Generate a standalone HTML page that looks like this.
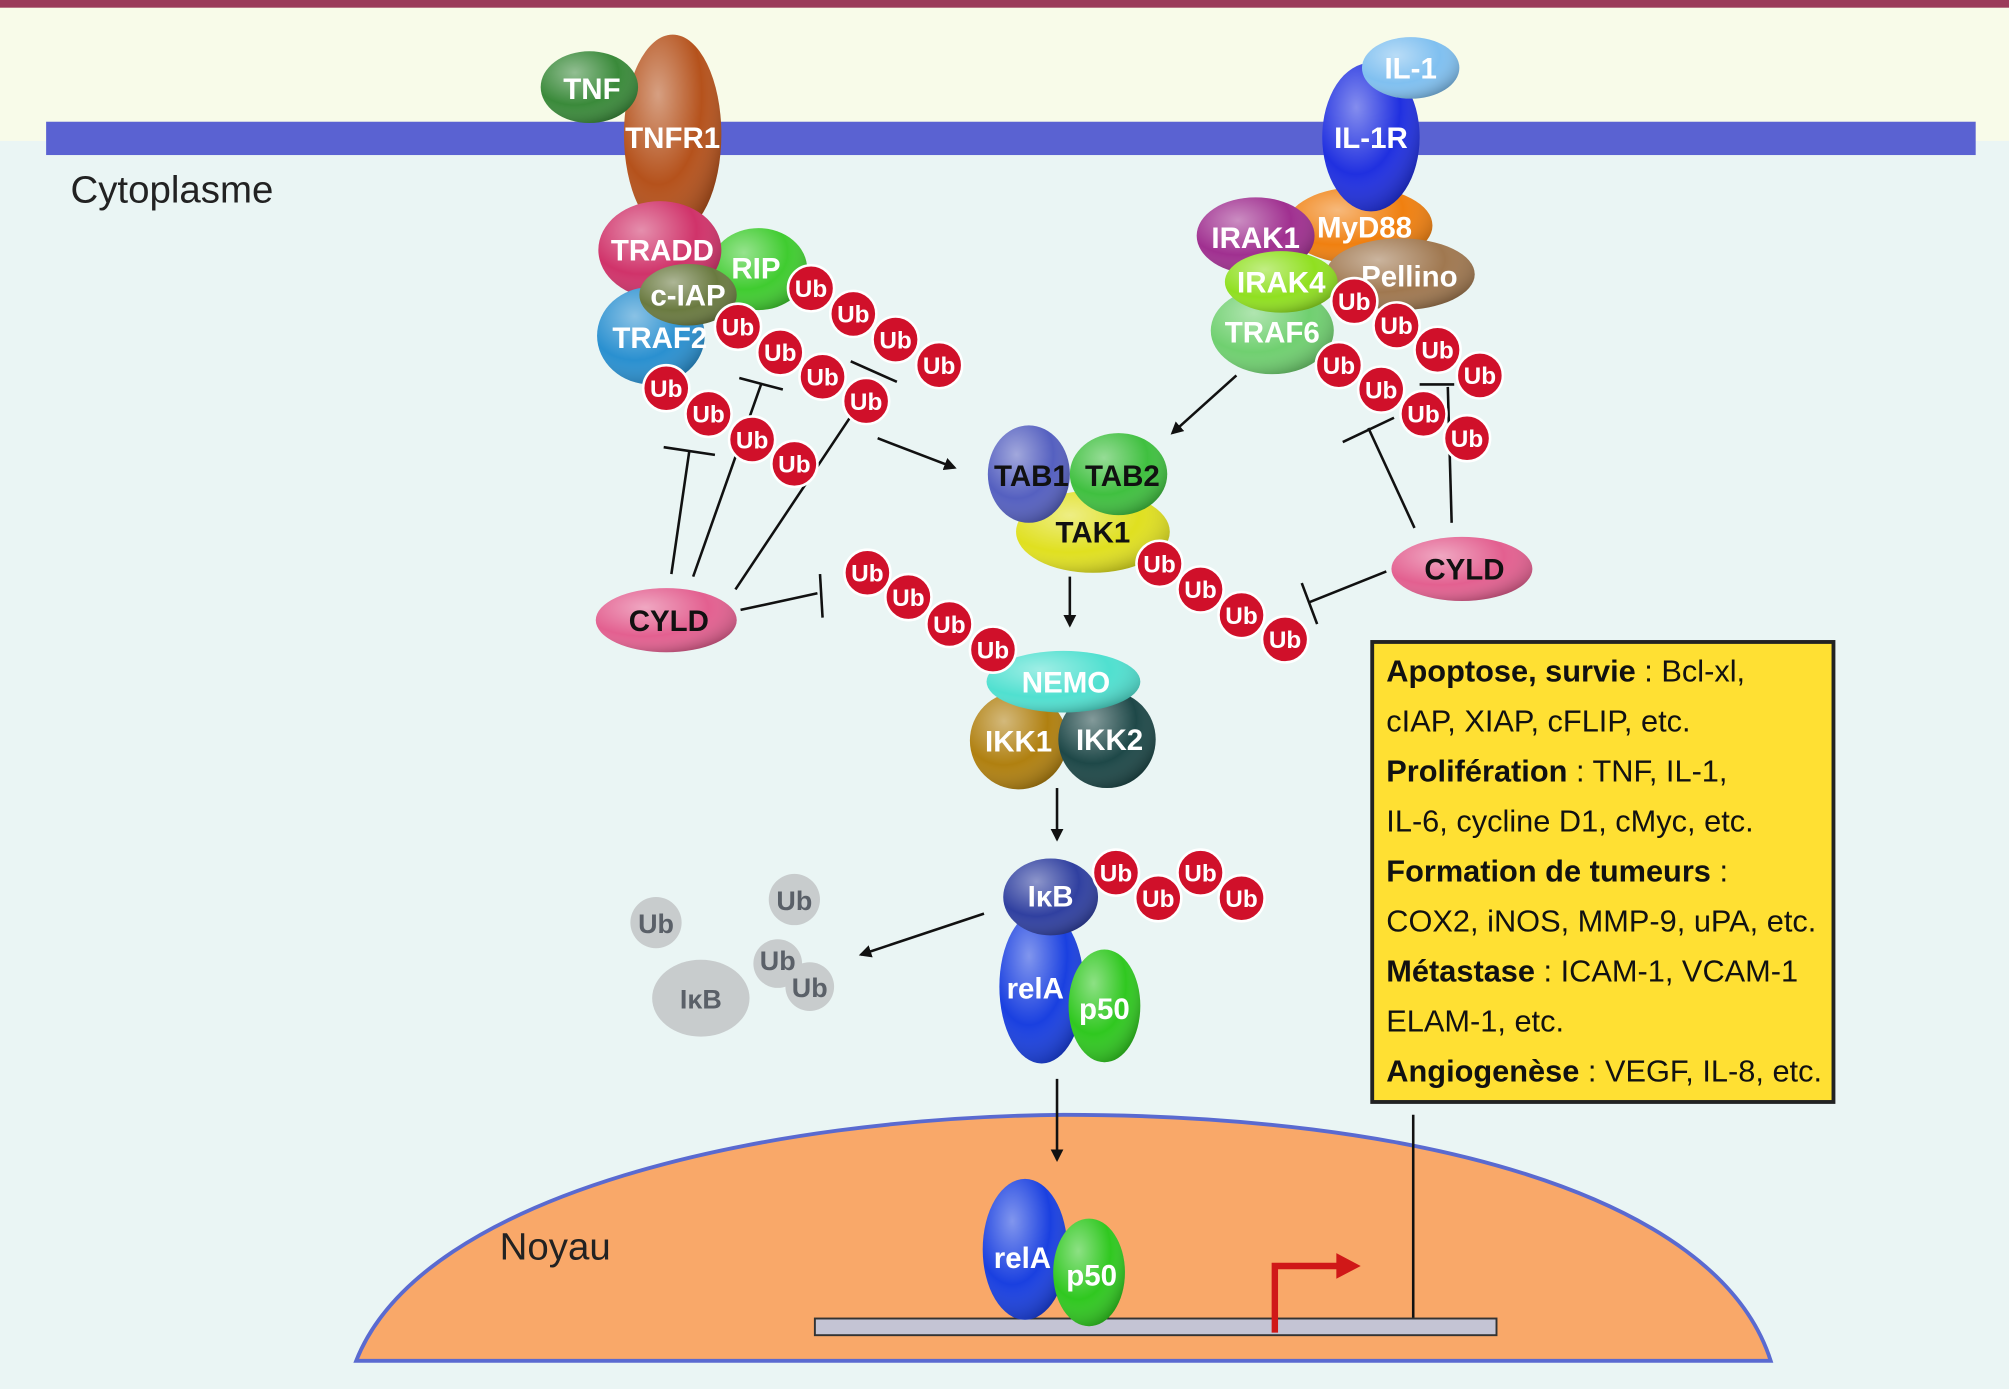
<!DOCTYPE html>
<html><head><meta charset="utf-8"><style>
html,body{margin:0;padding:0;background:#fff}
svg{display:block}
text{font-family:"Liberation Sans",sans-serif}
.l{font-weight:bold;fill:#fff;font-size:23px;text-anchor:middle;dominant-baseline:central}
.k{font-weight:bold;fill:#111;font-size:23px;text-anchor:middle;dominant-baseline:central}
.u{font-weight:bold;fill:#fff;font-size:19px;text-anchor:middle;dominant-baseline:central}
.g{font-weight:bold;fill:#5a6068;font-size:21px;text-anchor:middle;dominant-baseline:central}
.b{font-size:24px;fill:#111}
.b tspan.h{font-weight:bold}
</style></head><body>
<svg width="2009" height="1389" viewBox="0 0 1568 1084" preserveAspectRatio="none" xmlns="http://www.w3.org/2000/svg">
<defs>
<marker id="ar" markerWidth="10" markerHeight="10" refX="8" refY="5" orient="auto" markerUnits="userSpaceOnUse"><path d="M0,0 L14,5 L0,10 z" fill="#111" transform="scale(0.7,1)"/></marker>
<radialGradient id="sh" cx="0.35" cy="0.3" r="0.75"><stop offset="0" stop-color="#fff" stop-opacity="0.45"/><stop offset="0.6" stop-color="#fff" stop-opacity="0"/><stop offset="1" stop-color="#000" stop-opacity="0.25"/></radialGradient>
</defs>
<rect x="0" y="0" width="1568" height="1084" fill="#eaf5f4"/>
<rect x="0" y="0" width="1568" height="110" fill="#f8fbe9"/>
<rect x="0" y="0" width="1568" height="6" fill="#9b3b5a"/>
<rect x="36" y="95" width="1506" height="26" fill="#5a62d2"/>
<text x="55" y="158" font-size="30" fill="#222">Cytoplasme</text>
<path d="M278,1062 C330,930 600,872 830,870 C1100,870 1340,930 1382,1062 Z" fill="#f9a869" stroke="#5a6ad0" stroke-width="3"/>
<text x="390" y="983" font-size="30" fill="#222">Noyau</text>
<line x1="1103" y1="870" x2="1103" y2="1030" stroke="#111" stroke-width="2"/>
<rect x="636" y="1029" width="532" height="13" fill="#c4c4d4" stroke="#333" stroke-width="1.5"/>
<path d="M995,1040 L995,988 L1045,988" fill="none" stroke="#d01818" stroke-width="5"/>
<path d="M1043,978 L1062,988 L1043,998 z" fill="#d01818"/>
<rect x="1071" y="501" width="360" height="359" fill="#ffe033" stroke="#222" stroke-width="3"/>
<text class="b" x="1082" y="532"><tspan class="h">Apoptose, survie</tspan> : Bcl-xl,</text>
<text class="b" x="1082" y="571">cIAP, XIAP, cFLIP, etc.</text>
<text class="b" x="1082" y="610"><tspan class="h">Prolifération</tspan> : TNF, IL-1,</text>
<text class="b" x="1082" y="649">IL-6, cycline D1, cMyc, etc.</text>
<text class="b" x="1082" y="688"><tspan class="h">Formation de tumeurs</tspan> :</text>
<text class="b" x="1082" y="727">COX2, iNOS, MMP-9, uPA, etc.</text>
<text class="b" x="1082" y="766"><tspan class="h">Métastase</tspan> : ICAM-1, VCAM-1</text>
<text class="b" x="1082" y="805">ELAM-1, etc.</text>
<text class="b" x="1082" y="844"><tspan class="h">Angiogenèse</tspan> : VEGF, IL-8, etc.</text>

<g stroke="#111" stroke-width="2" fill="none">
<line x1="524" y1="448" x2="538" y2="352"/><line x1="518" y1="349" x2="558" y2="355"/>
<line x1="541" y1="450" x2="594" y2="300"/><line x1="577" y1="295" x2="611" y2="304"/>
<line x1="574" y1="460" x2="666" y2="322"/>
<line x1="664" y1="282" x2="700" y2="298"/>
<line x1="578" y1="476" x2="638" y2="463"/><line x1="640" y1="448" x2="642" y2="482"/>
<line x1="1104" y1="412" x2="1068" y2="334"/><line x1="1048" y1="345" x2="1088" y2="326"/>
<line x1="1133" y1="408" x2="1130" y2="302"/><line x1="1108" y1="300" x2="1135" y2="300"/>
<line x1="1082" y1="446" x2="1022" y2="470"/><line x1="1016" y1="455" x2="1028" y2="487"/>
<line x1="685" y1="342" x2="745" y2="365" marker-end="url(#ar)"/>
<line x1="965" y1="293" x2="915" y2="338" marker-end="url(#ar)"/>
<line x1="835" y1="450" x2="835" y2="488" marker-end="url(#ar)"/>
<line x1="825" y1="615" x2="825" y2="655" marker-end="url(#ar)"/>
<line x1="768" y1="713" x2="672" y2="745" marker-end="url(#ar)"/>
<line x1="825" y1="842" x2="825" y2="905" marker-end="url(#ar)"/>
</g>

<g>
<ellipse cx="525" cy="105" rx="38" ry="78" fill="#b5521c"/><ellipse cx="525" cy="105" rx="38" ry="78" fill="url(#sh)"/>
<ellipse cx="460" cy="68" rx="38" ry="28" fill="#3a8a3a"/><ellipse cx="460" cy="68" rx="38" ry="28" fill="url(#sh)"/>
<text class="l" x="462" y="70">TNF</text><text class="l" x="525" y="108">TNFR1</text>
<ellipse cx="592" cy="210" rx="38" ry="32" fill="#40cc30"/><ellipse cx="592" cy="210" rx="38" ry="32" fill="url(#sh)"/>
<ellipse cx="515" cy="195" rx="48" ry="38" fill="#d0336a"/><ellipse cx="515" cy="195" rx="48" ry="38" fill="url(#sh)"/>
<ellipse cx="508" cy="262" rx="42" ry="38" fill="#2a90d0"/><ellipse cx="508" cy="262" rx="42" ry="38" fill="url(#sh)"/>
<ellipse cx="537" cy="230" rx="38" ry="24" fill="#6a7a40"/><ellipse cx="537" cy="230" rx="38" ry="24" fill="url(#sh)"/>
<text class="l" x="517" y="196">TRADD</text><text class="l" x="590" y="210">RIP</text>
<text class="l" x="515" y="264">TRAF2</text><text class="l" x="537" y="231">c-IAP</text>
</g>

<g>
<ellipse cx="1061" cy="176" rx="57" ry="30" fill="#f08010"/><ellipse cx="1061" cy="176" rx="57" ry="30" fill="url(#sh)"/>
<ellipse cx="1070" cy="107" rx="38" ry="58" fill="#2030e0"/><ellipse cx="1070" cy="107" rx="38" ry="58" fill="url(#sh)"/>
<ellipse cx="1101" cy="53" rx="38" ry="24" fill="#80c0f0"/><ellipse cx="1101" cy="53" rx="38" ry="24" fill="url(#sh)"/>
<ellipse cx="980" cy="184" rx="46" ry="30" fill="#a03090"/><ellipse cx="980" cy="184" rx="46" ry="30" fill="url(#sh)"/>
<ellipse cx="1093" cy="214" rx="58" ry="28" fill="#a07850"/><ellipse cx="1093" cy="214" rx="58" ry="28" fill="url(#sh)"/>
<ellipse cx="993" cy="258" rx="48" ry="34" fill="#70d070"/><ellipse cx="993" cy="258" rx="48" ry="34" fill="url(#sh)"/>
<ellipse cx="1000" cy="220" rx="44" ry="24" fill="#90e020"/><ellipse cx="1000" cy="220" rx="44" ry="24" fill="url(#sh)"/>
<text class="l" x="1101" y="54">IL-1</text><text class="l" x="1070" y="108">IL-1R</text>
<text class="l" x="1065" y="178">MyD88</text><text class="l" x="980" y="186">IRAK1</text>
<text class="l" x="1100" y="216">Pellino</text><text class="l" x="1000" y="221">IRAK4</text>
<text class="l" x="993" y="260">TRAF6</text>
</g>

<ellipse cx="853" cy="415" rx="60" ry="32" fill="#e0e020"/><ellipse cx="853" cy="415" rx="60" ry="32" fill="url(#sh)"/>
<ellipse cx="873" cy="370" rx="38" ry="32" fill="#40c040"/><ellipse cx="873" cy="370" rx="38" ry="32" fill="url(#sh)"/>
<ellipse cx="803" cy="370" rx="32" ry="38" fill="#5560c0"/><ellipse cx="803" cy="370" rx="32" ry="38" fill="url(#sh)"/>
<text class="k" x="805" y="372">TAB1</text><text class="k" x="876" y="372">TAB2</text><text class="k" x="853" y="416">TAK1</text>

<ellipse cx="795" cy="578" rx="38" ry="38" fill="#b08010"/><ellipse cx="795" cy="578" rx="38" ry="38" fill="url(#sh)"/>
<ellipse cx="864" cy="577" rx="38" ry="38" fill="#1e4848"/><ellipse cx="864" cy="577" rx="38" ry="38" fill="url(#sh)"/>
<ellipse cx="830" cy="532" rx="60" ry="24" fill="#50e0d0"/><ellipse cx="830" cy="532" rx="60" ry="24" fill="url(#sh)"/>
<text class="l" x="832" y="533">NEMO</text><text class="l" x="795" y="579">IKK1</text><text class="l" x="866" y="578">IKK2</text>

<ellipse cx="813" cy="770" rx="33" ry="60" fill="#1a40e0"/><ellipse cx="813" cy="770" rx="33" ry="60" fill="url(#sh)"/>
<ellipse cx="862" cy="785" rx="28" ry="44" fill="#30c820"/><ellipse cx="862" cy="785" rx="28" ry="44" fill="url(#sh)"/>
<ellipse cx="820" cy="700" rx="37" ry="30" fill="#3040a0"/><ellipse cx="820" cy="700" rx="37" ry="30" fill="url(#sh)"/>
<text class="l" x="820" y="700">IκB</text><text class="l" x="808" y="772">relA</text><text class="l" x="862" y="788">p50</text>
<ellipse cx="800" cy="975" rx="33" ry="55" fill="#1a40e0"/><ellipse cx="800" cy="975" rx="33" ry="55" fill="url(#sh)"/>
<ellipse cx="850" cy="993" rx="28" ry="42" fill="#30c820"/><ellipse cx="850" cy="993" rx="28" ry="42" fill="url(#sh)"/>
<text class="l" x="798" y="982">relA</text><text class="l" x="852" y="996">p50</text>

<g fill="#c8cccd">
<circle cx="512" cy="720" r="20"/><circle cx="620" cy="702" r="20"/><circle cx="607" cy="752" r="19"/><circle cx="632" cy="770" r="19"/>
<ellipse cx="547" cy="779" rx="38" ry="30"/>
</g>
<text class="g" x="512" y="721">Ub</text><text class="g" x="620" y="703">Ub</text><text class="g" x="607" y="750">Ub</text><text class="g" x="632" y="771">Ub</text><text class="g" x="547" y="780">IκB</text>

<ellipse cx="520" cy="484" rx="55" ry="25" fill="#e36090"/><ellipse cx="520" cy="484" rx="55" ry="25" fill="url(#sh)"/>
<ellipse cx="1141" cy="444" rx="55" ry="25" fill="#e36090"/><ellipse cx="1141" cy="444" rx="55" ry="25" fill="url(#sh)"/>
<text class="k" x="522" y="485">CYLD</text><text class="k" x="1143" y="445">CYLD</text>

<g>
<g fill="#d0102a" stroke="#fff" stroke-width="2">
<circle cx="633" cy="225" r="18"/><circle cx="666" cy="245" r="18"/><circle cx="699" cy="265" r="18"/><circle cx="733" cy="285" r="18"/>
<circle cx="576" cy="255" r="18"/><circle cx="609" cy="275" r="18"/><circle cx="642" cy="294" r="18"/><circle cx="676" cy="313" r="18"/>
<circle cx="520" cy="303" r="18"/><circle cx="553" cy="323" r="18"/><circle cx="587" cy="343" r="18"/><circle cx="620" cy="362" r="18"/>
<circle cx="905" cy="440" r="18"/><circle cx="937" cy="460" r="18"/><circle cx="969" cy="480" r="18"/><circle cx="1003" cy="499" r="18"/>
<circle cx="677" cy="447" r="18"/><circle cx="709" cy="466" r="18"/><circle cx="741" cy="487" r="18"/><circle cx="775" cy="507" r="18"/>
<circle cx="871" cy="681" r="18"/><circle cx="904" cy="701" r="18"/><circle cx="937" cy="681" r="18"/><circle cx="969" cy="701" r="18"/>
<circle cx="1057" cy="235" r="18"/><circle cx="1090" cy="254" r="18"/><circle cx="1122" cy="273" r="18"/><circle cx="1155" cy="293" r="18"/>
<circle cx="1045" cy="285" r="18"/><circle cx="1078" cy="304" r="18"/><circle cx="1111" cy="323" r="18"/><circle cx="1145" cy="342" r="18"/>
</g>
<text class="u" x="633" y="226">Ub</text><text class="u" x="666" y="246">Ub</text><text class="u" x="699" y="266">Ub</text><text class="u" x="733" y="286">Ub</text>
<text class="u" x="576" y="256">Ub</text><text class="u" x="609" y="276">Ub</text><text class="u" x="642" y="295">Ub</text><text class="u" x="676" y="314">Ub</text>
<text class="u" x="520" y="304">Ub</text><text class="u" x="553" y="324">Ub</text><text class="u" x="587" y="344">Ub</text><text class="u" x="620" y="363">Ub</text>
<text class="u" x="905" y="441">Ub</text><text class="u" x="937" y="461">Ub</text><text class="u" x="969" y="481">Ub</text><text class="u" x="1003" y="500">Ub</text>
<text class="u" x="677" y="448">Ub</text><text class="u" x="709" y="467">Ub</text><text class="u" x="741" y="488">Ub</text><text class="u" x="775" y="508">Ub</text>
<text class="u" x="871" y="682">Ub</text><text class="u" x="904" y="702">Ub</text><text class="u" x="937" y="682">Ub</text><text class="u" x="969" y="702">Ub</text>
<text class="u" x="1057" y="236">Ub</text><text class="u" x="1090" y="255">Ub</text><text class="u" x="1122" y="274">Ub</text><text class="u" x="1155" y="294">Ub</text>
<text class="u" x="1045" y="286">Ub</text><text class="u" x="1078" y="305">Ub</text><text class="u" x="1111" y="324">Ub</text><text class="u" x="1145" y="343">Ub</text>
</g>
</svg>
</body></html>
